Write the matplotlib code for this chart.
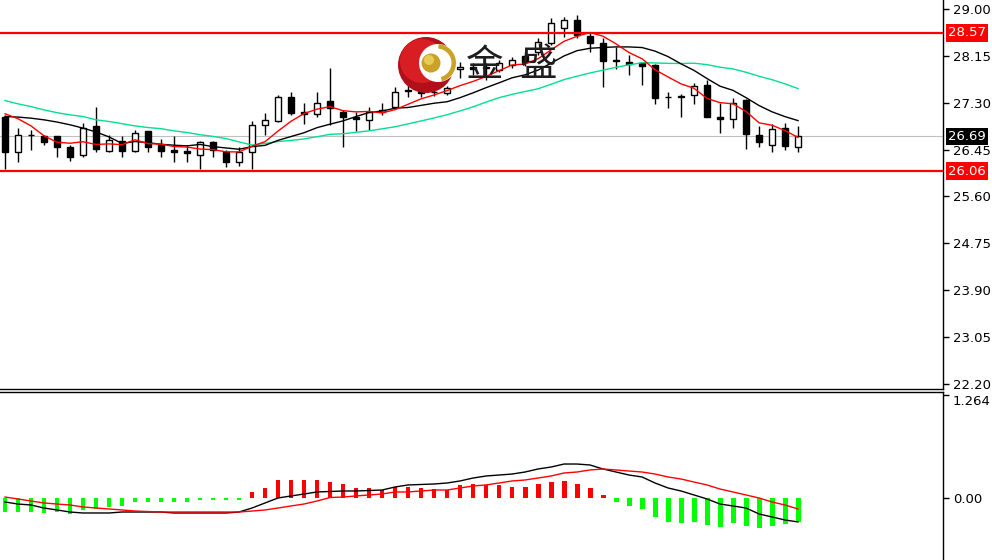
import matplotlib
matplotlib.use("Agg")
import matplotlib.pyplot as plt
import matplotlib.transforms as mtransforms
from matplotlib.patches import Circle, Wedge
import numpy as np
import pandas as pd

# ---------------- data ----------------
opens = [27.05, 26.41, 26.72, 26.69, 26.69, 26.49, 26.36, 26.88, 26.43, 26.60,
         26.43, 26.78, 26.54, 26.45, 26.43, 26.36, 26.58, 26.40, 26.22, 26.40,
         26.90, 26.97, 27.41, 27.14, 27.10, 27.34, 27.14, 27.05, 26.99, 27.14,
         27.23, 27.52, 27.48, 27.50, 27.48, 27.92, 27.95, 27.93, 27.90, 27.99,
         28.15, 28.22, 28.39, 28.66, 28.80, 28.51, 28.39, 28.08, 28.04, 28.02,
         27.99, 27.40, 27.41, 27.44, 27.63, 27.05, 27.01, 27.35, 26.72, 26.54,
         26.85, 26.50]
highs = [27.08, 26.85, 26.81, 26.72, 26.70, 26.54, 26.94, 27.23, 26.72, 26.69,
         26.81, 26.79, 26.65, 26.69, 26.54, 26.60, 26.60, 26.45, 26.50, 26.96,
         27.12, 27.44, 27.50, 27.30, 27.50, 27.93, 27.17, 27.14, 27.23, 27.30,
         27.59, 27.63, 27.59, 27.57, 27.61, 28.04, 28.02, 28.02, 28.08, 28.13,
         28.22, 28.48, 28.84, 28.86, 28.89, 28.57, 28.48, 28.31, 28.17, 28.04,
         28.00, 27.50, 27.46, 27.66, 27.72, 27.30, 27.39, 27.37, 26.87, 26.92,
         26.94, 26.87]
lows = [26.09, 26.22, 26.45, 26.54, 26.32, 26.25, 26.32, 26.41, 26.40, 26.32,
        26.40, 26.41, 26.32, 26.23, 26.23, 26.09, 26.32, 26.14, 26.16, 26.09,
        26.72, 26.95, 27.08, 26.92, 27.05, 26.90, 26.50, 26.78, 26.81, 27.08,
        27.21, 27.41, 27.41, 27.43, 27.44, 27.75, 27.81, 27.72, 27.86, 27.93,
        27.97, 28.17, 28.35, 28.49, 28.48, 28.22, 27.59, 27.92, 27.81, 27.63,
        27.28, 27.21, 27.05, 27.28, 27.04, 26.76, 26.85, 26.47, 26.49, 26.40,
        26.45, 26.40]
closes = [26.41, 26.72, 26.71, 26.58, 26.50, 26.32, 26.85, 26.47, 26.63, 26.43,
          26.76, 26.50, 26.43, 26.41, 26.38, 26.58, 26.45, 26.23, 26.40, 26.90,
          26.99, 27.41, 27.12, 27.10, 27.30, 27.21, 27.05, 27.01, 27.14, 27.17,
          27.50, 27.54, 27.50, 27.49, 27.57, 27.95, 27.92, 27.95, 28.02, 28.08,
          28.04, 28.40, 28.75, 28.80, 28.53, 28.39, 28.06, 28.06, 28.01, 27.97,
          27.39, 27.41, 27.43, 27.61, 27.05, 27.01, 27.30, 26.74, 26.58, 26.83,
          26.52, 26.69]

# moving-average values at the start of the window (history not shown)
ma5_head = [27.10, 27.01, 26.88, 26.70]
ma10_head = [27.05, 27.04, 27.02, 26.99, 26.95, 26.90, 26.84, 26.77, 26.68]
ma20_head = [27.34, 27.28, 27.23, 27.17, 27.12, 27.08, 27.05, 26.99, 26.96, 26.92,
             26.88, 26.85, 26.83, 26.79, 26.76, 26.72, 26.69, 26.65, 26.59]

resistance = 28.57
support = 26.06
last_price = 26.69

price_ticks = [29.00, 28.15, 27.30, 26.45, 25.60, 24.75, 23.90, 23.05, 22.20]
osc_ticks = [1.264, 0.00]
osc_tick_labels = ["1.264", "0.00"]

hist = [-0.17, -0.17, -0.17, -0.18, -0.17, -0.20, -0.15, -0.13, -0.11, -0.10,
        -0.05, -0.05, -0.05, -0.05, -0.05, -0.02, -0.02, -0.025, -0.03,
        0.07, 0.12, 0.22, 0.22, 0.22, 0.22, 0.20, 0.17, 0.12, 0.12, 0.10,
        0.135, 0.135, 0.12, 0.11, 0.10, 0.16, 0.17, 0.16, 0.16, 0.135,
        0.135, 0.17, 0.20, 0.21, 0.17, 0.12, 0.04, -0.05, -0.10, -0.135,
        -0.23, -0.29, -0.31, -0.29, -0.33, -0.36, -0.31, -0.34, -0.37, -0.34,
        -0.32, -0.29]
macd_line = [-0.049, -0.074, -0.086, -0.123, -0.147, -0.172, -0.184, -0.184, -0.184, -0.172,
             -0.172, -0.172, -0.172, -0.184, -0.184, -0.184, -0.184, -0.184, -0.172, -0.123,
             -0.061, 0.000, 0.025, 0.049, 0.074, 0.080, 0.086, 0.086, 0.092, 0.098,
             0.135, 0.160, 0.166, 0.172, 0.184, 0.209, 0.245, 0.270, 0.282, 0.294,
             0.319, 0.356, 0.380, 0.417, 0.417, 0.405, 0.356, 0.319, 0.282, 0.258,
             0.184, 0.123, 0.086, 0.037, -0.012, -0.074, -0.098, -0.123, -0.196, -0.233,
             -0.270, -0.294]
signal_line = [0.012, -0.012, -0.037, -0.061, -0.074, -0.086, -0.110, -0.123, -0.135, -0.147,
               -0.160, -0.166, -0.172, -0.172, -0.172, -0.172, -0.172, -0.172, -0.172, -0.160,
               -0.147, -0.123, -0.098, -0.074, -0.037, 0.006, 0.012, 0.025, 0.037, 0.049,
               0.074, 0.074, 0.086, 0.098, 0.098, 0.123, 0.147, 0.160, 0.184, 0.209,
               0.221, 0.245, 0.270, 0.307, 0.319, 0.344, 0.356, 0.344, 0.331, 0.319,
               0.294, 0.258, 0.233, 0.196, 0.160, 0.110, 0.074, 0.037, 0.000, -0.049,
               -0.086, -0.135]

# ---------------- derived ----------------
n = len(closes)
x = np.arange(n)
o = np.array(opens); c = np.array(closes); h = np.array(highs); l = np.array(lows)


def sma(window, head):
    s = pd.Series(closes).rolling(window).mean().to_numpy()
    s[:window - 1] = head
    return s


ma5 = sma(5, ma5_head)
ma10 = sma(10, ma10_head)
ma20 = sma(20, ma20_head)

W, H = 992, 560
fig = plt.figure(figsize=(W / 100, H / 100), dpi=100)
fig.patch.set_facecolor("white")

XL = (-0.385, 72.15)
RIGHT = 943 / W

# ---------------- price panel ----------------
ax = fig.add_axes([0, 1 - 389 / H, RIGHT, 389 / H])
ax.set_xlim(*XL)
ax.set_ylim(22.109, 29.163)
for s in ("left", "top"):
    ax.spines[s].set_visible(False)
for s in ("right", "bottom"):
    ax.spines[s].set_color("black")
    ax.spines[s].set_linewidth(1)
ax.set_xticks([])
ax.yaxis.tick_right()
ax.set_yticks(price_ticks)
ax.set_yticklabels([f"{v:.2f}" for v in price_ticks])
ax.tick_params(axis="y", length=4, width=1, pad=3, labelsize=9.5, colors="black")

# current price line
ax.axhline(last_price, color="#C0C0C0", lw=0.8, zorder=1)

# candles
ax.vlines(x, l, h, color="black", lw=1, zorder=2)
up = c >= o
body = np.where(np.abs(c - o) < 0.005, 0.005, c - o)
ax.bar(x[up], body[up], bottom=o[up], width=0.52, color="white",
       edgecolor="black", linewidth=1, zorder=3)
ax.bar(x[~up], body[~up], bottom=o[~up], width=0.52, color="black",
       edgecolor="black", linewidth=1, zorder=3)

# moving averages
ax.plot(x, ma20, color="#00E090", lw=1, zorder=4)
ax.plot(x, ma10, color="black", lw=1, zorder=4)
ax.plot(x, ma5, color="#FF0000", lw=1, zorder=4)

# support / resistance
ax.axhline(resistance, color="#FF0000", lw=1.6, zorder=5)
ax.axhline(support, color="#FF0000", lw=1.6, zorder=5)

blend = mtransforms.blended_transform_factory(ax.transAxes, ax.transData)
for val, bg in ((resistance, "#FF0000"), (support, "#FF0000"), (last_price, "black")):
    ax.annotate(f"{val:.2f}", xy=(1, val), xycoords=blend, xytext=(5, 0),
                textcoords="offset pixels", ha="left", va="center", fontsize=9.5,
                color="white", annotation_clip=False, zorder=10,
                bbox=dict(boxstyle="square,pad=0.18", fc=bg, ec="none"))

# ---------------- oscillator panel ----------------
ax2 = fig.add_axes([0, 0, RIGHT, 1 - 392 / H])
ax2.set_xlim(*XL)
ax2.set_ylim(-0.761, 1.301)
for s in ("left", "bottom"):
    ax2.spines[s].set_visible(False)
for s in ("right", "top"):
    ax2.spines[s].set_color("black")
    ax2.spines[s].set_linewidth(1)
ax2.set_xticks([])
ax2.yaxis.tick_right()
ax2.set_yticks(osc_ticks)
ax2.set_yticklabels(osc_tick_labels)
ax2.tick_params(axis="y", length=4, width=1, pad=3, labelsize=9.5, colors="black")
ax2.get_yticklabels()[0].set_verticalalignment("top")

hv = np.array(hist)
colors = np.where(hv > 0, "#FF0000", "#00FF00")
ax2.bar(x, hv, width=0.38, color=colors, zorder=2)
ax2.plot(x, macd_line, color="black", lw=1, zorder=3)
ax2.plot(x, signal_line, color="#FF0000", lw=1, zorder=3)

# ---------------- watermark logo ----------------
def px(xp, yp):
    return (xp / 100.0, (H - yp) / 100.0)


tr = fig.dpi_scale_trans
fig.add_artist(Circle(px(426, 65), 0.28, transform=tr, fc="#B0101A", ec="none", zorder=20))
fig.add_artist(Circle(px(422, 61), 0.22, transform=tr, fc="#D81E22", ec="none", zorder=20))
fig.add_artist(Circle(px(438, 63), 0.19, transform=tr, fc="white", ec="none", zorder=21))
fig.add_artist(Wedge(px(437, 63), 0.19, -75, 85, width=0.045, transform=tr,
                     fc="#C9A227", ec="none", zorder=22))
fig.add_artist(Circle(px(431, 63), 0.095, transform=tr, fc="#C9A227", ec="none", zorder=22))
fig.add_artist(Circle(px(429, 60), 0.05, transform=tr, fc="#E6CC55", ec="none", zorder=22))
fig.text(485 / W, 1 - 66 / H, "金", fontsize=27, family=["Noto Sans CJK SC", "DejaVu Sans"],
         color="#1E1E1E", ha="center", va="center", zorder=23)
fig.text(538 / W, 1 - 64 / H, "盛", fontsize=27, family=["Noto Sans CJK SC", "DejaVu Sans"],
         color="#1E1E1E", ha="center", va="center", zorder=23)

fig.savefig("out.png", dpi=100, facecolor="white")
